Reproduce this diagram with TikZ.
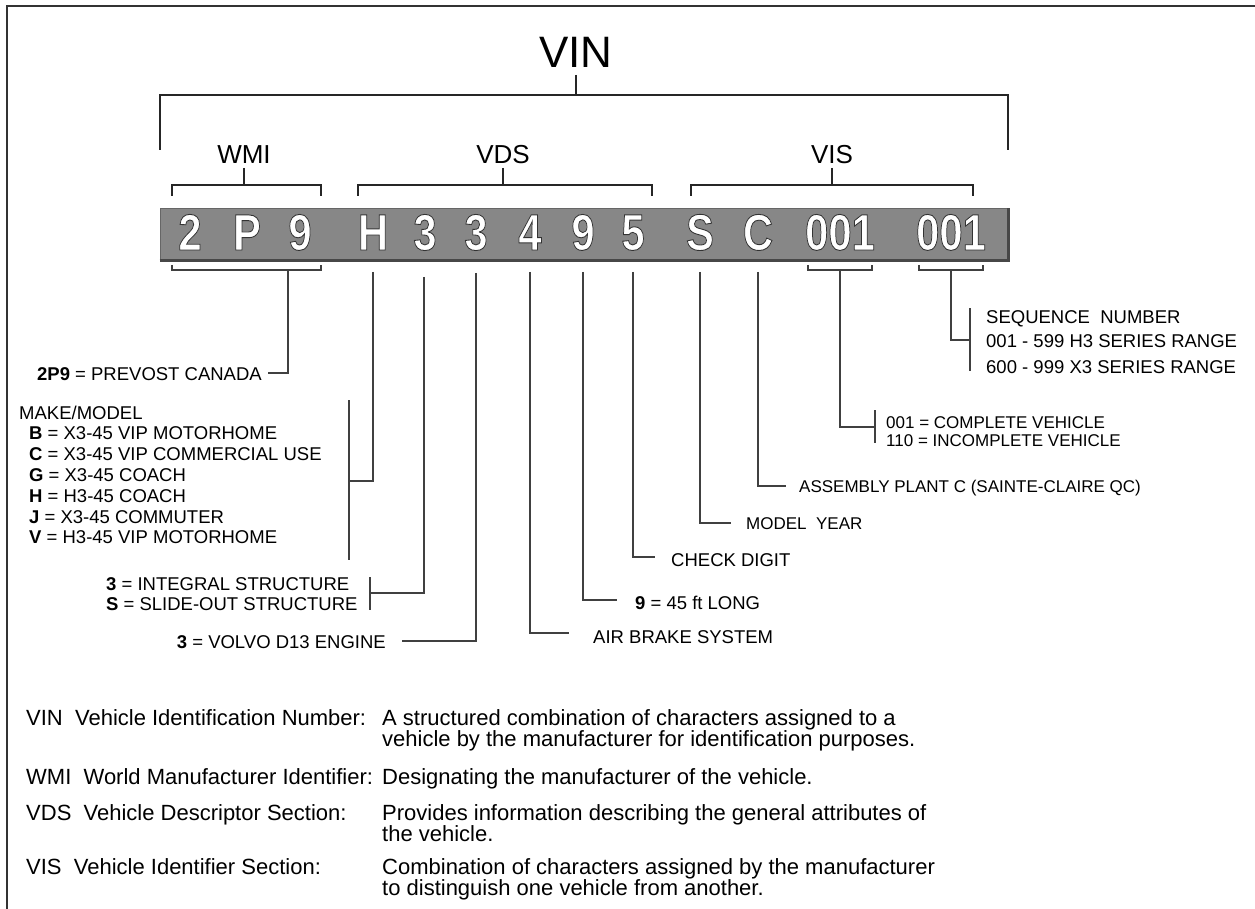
\documentclass[tikz,border=0pt]{standalone}
\usepackage{graphicx}
\usepackage{xcolor}
\usepackage{fontspec}
\setmainfont{Liberation Sans}
\newcommand{\barchar}[1]{\special{pdf:literal direct 0.2 G 0.9 w 2 Tr}\scalebox{0.82}[1]{#1}\special{pdf:literal direct 0 Tr}}
\begin{document}
\begin{tikzpicture}[x=1pt,y=-1pt,
  frame/.style={draw=black!80, line width=2pt},
  brk/.style={draw=black!85, line width=1.4pt},
  conn/.style={draw=black!75, line width=1.2pt},
  big/.style={inner sep=0pt, anchor=base, font=\fontsize{44}{44}\selectfont},
  sec/.style={inner sep=0pt, anchor=base, font=\fontsize{26}{26}\selectfont},
  lbl/.style={inner sep=0pt, anchor=base west, font=\fontsize{18.5}{20}\selectfont},
  lbls/.style={inner sep=0pt, anchor=base west, font=\fontsize{17}{19}\selectfont},
  lble/.style={inner sep=0pt, anchor=base east, font=\fontsize{18.5}{20}\selectfont},
  deftext/.style={inner sep=0pt, anchor=base west, font=\fontsize{22}{21}\selectfont},
  chr/.style={inner sep=0pt, anchor=base, text=white, font=\fontsize{51}{51}\selectfont\bfseries}
]
\useasboundingbox (0,0) rectangle (1255,909);
\fill[white] (0,0) rectangle (1255,909);

% frame
\coordinate (fbl) at (7,909);
\coordinate (ftl) at (7,6);
\coordinate (ftr) at (1255,6);
\draw[frame] (fbl) -- (ftl) -- (ftr);

% VIN header
\node[big] (vin) at (576,68) {VIN};
\coordinate (vinstem) at (576,75);
\coordinate (vinmid) at (576,95);
\coordinate (vinL) at (160,95);
\coordinate (vinR) at (1008,95);
\coordinate (vinLd) at (160,150);
\coordinate (vinRd) at (1008,150);
\draw[brk] (vinstem) -- (vinmid);
\draw[brk] (vinLd) -- (vinL) -- (vinR) -- (vinRd);

% section labels
\node[sec] (wmi) at (244,164) {WMI};
\node[sec] (vds) at (503,164) {VDS};
\node[sec] (vis) at (832,164) {VIS};
\foreach \n/\x/\a/\b in {wmi/244/172/321, vds/503/358/652, vis/832/691/973}{
  \coordinate (\n s) at (\x,168);
  \coordinate (\n m) at (\x,185);
  \coordinate (\n l) at (\a,185);
  \coordinate (\n r) at (\b,185);
  \coordinate (\n ld) at (\a,196);
  \coordinate (\n rd) at (\b,196);
  \draw[brk] (\n s) -- (\n m);
  \draw[brk] (\n ld) -- (\n l) -- (\n r) -- (\n rd);
}

% VIN bar
\node[fill=black!47, draw=black!60, line width=1pt, minimum width=848pt, minimum height=51pt, inner sep=0pt] (bar) at (584,234.5) {};
\draw[black!72, line width=2.2pt] (bar.south west) -- (bar.south east) -- (bar.north east);
\foreach \i/\x/\c in {1/190/2, 2/247/P, 3/300/9, 4/373/H, 5/425/3, 6/476/3, 7/530/4, 8/583/9, 9/633/5, 10/700/S, 11/758/C, 12/840/001, 13/951/001}{
  \node[chr] (c\i) at (\x,250) {\barchar{\c}};
}

% WMI lower bracket -> 2P9
\coordinate (wb1) at (172,265);
\coordinate (wb2) at (172,270);
\coordinate (wb3) at (321,270);
\coordinate (wb4) at (321,265);
\coordinate (wbs) at (288,270);
\coordinate (wbe) at (268,373);
\draw[conn] (wb1) -- (wb2) -- (wb3) -- (wb4);
\draw[conn] (wbs) |- (wbe);
\node[lble] (t2p9) at (262,380) {\textbf{2P9} = PREVOST CANADA};

% H -> make/model
\coordinate (hs) at (373,272);
\coordinate (he) at (349,481);
\coordinate (hb1) at (349,400);
\coordinate (hb2) at (349,560);
\draw[conn] (hs) |- (he);
\draw[conn] (hb1) -- (hb2);
\node[lbl] (mm0) at (19,419) {MAKE/MODEL};
\node[lbl] (mm1) at (29,439.8) {\textbf{B} = X3-45 VIP MOTORHOME};
\node[lbl] (mm2) at (29,460.6) {\textbf{C} = X3-45 VIP COMMERCIAL USE};
\node[lbl] (mm3) at (29,481.4) {\textbf{G} = X3-45 COACH};
\node[lbl] (mm4) at (29,502.2) {\textbf{H} = H3-45 COACH};
\node[lbl] (mm5) at (29,523) {\textbf{J} = X3-45 COMMUTER};
\node[lbl] (mm6) at (29,543.8) {\textbf{V} = H3-45 VIP MOTORHOME};

% 3 -> structure
\coordinate (s3s) at (424,277);
\coordinate (s3e) at (370,593);
\coordinate (s3b1) at (370,577);
\coordinate (s3b2) at (370,610);
\draw[conn] (s3s) |- (s3e);
\draw[conn] (s3b1) -- (s3b2);
\node[lbl] (st1) at (106,590) {\textbf{3} = INTEGRAL STRUCTURE};
\node[lbl] (st2) at (106,610) {\textbf{S} = SLIDE-OUT STRUCTURE};

% 3 -> engine
\coordinate (e3s) at (476,273);
\coordinate (e3e) at (402,641);
\draw[conn] (e3s) |- (e3e);
\node[lble] (eng) at (386,648) {\textbf{3} = VOLVO D13 ENGINE};

% 4 -> air brake
\coordinate (a4s) at (530,272);
\coordinate (a4e) at (569,633);
\draw[conn] (a4s) |- (a4e);
\node[lbl] (air) at (593,643) {AIR BRAKE SYSTEM};

% 9 -> length
\coordinate (l9s) at (583,272);
\coordinate (l9e) at (617,600);
\draw[conn] (l9s) |- (l9e);
\node[lbl] (len) at (635,609) {\textbf{9} = 45 ft LONG};

% 5 -> check digit
\coordinate (k5s) at (633,272);
\coordinate (k5e) at (655,557);
\draw[conn] (k5s) |- (k5e);
\node[lbl] (chk) at (671,566) {CHECK DIGIT};

% S -> model year
\coordinate (ySs) at (700,272);
\coordinate (ySe) at (731,523);
\draw[conn] (ySs) |- (ySe);
\node[lbls] (my) at (746,529) {MODEL\ \ YEAR};

% C -> assembly plant
\coordinate (pCs) at (758,272);
\coordinate (pCe) at (786,486);
\draw[conn] (pCs) |- (pCe);
\node[lbls] (asm) at (799,492) {ASSEMBLY PLANT C (SAINTE-CLAIRE QC)};

% 001 -> complete
\coordinate (ca1) at (808,265);
\coordinate (ca2) at (808,270);
\coordinate (ca3) at (872,270);
\coordinate (ca4) at (872,265);
\coordinate (cas) at (840,270);
\coordinate (cae) at (875,427);
\coordinate (cab1) at (875,410);
\coordinate (cab2) at (875,443);
\draw[conn] (ca1) -- (ca2) -- (ca3) -- (ca4);
\draw[conn] (cas) |- (cae);
\draw[conn] (cab1) -- (cab2);
\node[lbls] (cv1) at (886,428) {001 = COMPLETE VEHICLE};
\node[lbls] (cv2) at (886,446) {110 = INCOMPLETE VEHICLE};

% 001 -> sequence
\coordinate (sb1) at (919,265);
\coordinate (sb2) at (919,270);
\coordinate (sb3) at (983,270);
\coordinate (sb4) at (983,265);
\coordinate (sbs) at (951,270);
\coordinate (sbe) at (970,340);
\coordinate (sbb1) at (970,308);
\coordinate (sbb2) at (970,371);
\draw[conn] (sb1) -- (sb2) -- (sb3) -- (sb4);
\draw[conn] (sbs) |- (sbe);
\draw[conn] (sbb1) -- (sbb2);
\node[lbl] (sq1) at (986,323) {SEQUENCE\ \ NUMBER};
\node[lbl] (sq2) at (986,347) {001 - 599 H3 SERIES RANGE};
\node[lbl] (sq3) at (986,373) {600 - 999 X3 SERIES RANGE};

% definitions
\node[deftext] (d1a) at (26,725) {VIN\ \ Vehicle Identification Number:};
\node[deftext] (d1b) at (382,725) {A structured combination of characters assigned to a};
\node[deftext] (d1c) at (382,746) {vehicle by the manufacturer for identification purposes.};
\node[deftext] (d2a) at (26,784.5) {WMI\ \ World Manufacturer Identifier:};
\node[deftext] (d2b) at (382,784.5) {Designating the manufacturer of the vehicle.};
\node[deftext] (d3a) at (26,820.5) {VDS\ \ Vehicle Descriptor Section:};
\node[deftext] (d3b) at (382,820.5) {Provides information describing the general attributes of};
\node[deftext] (d3c) at (382,841) {the vehicle.};
\node[deftext] (d4a) at (26,874.5) {VIS\ \ Vehicle Identifier Section:};
\node[deftext] (d4b) at (382,874.5) {Combination of characters assigned by the manufacturer};
\node[deftext] (d4c) at (382,895.5) {to distinguish one vehicle from another.};
\end{tikzpicture}
\end{document}
